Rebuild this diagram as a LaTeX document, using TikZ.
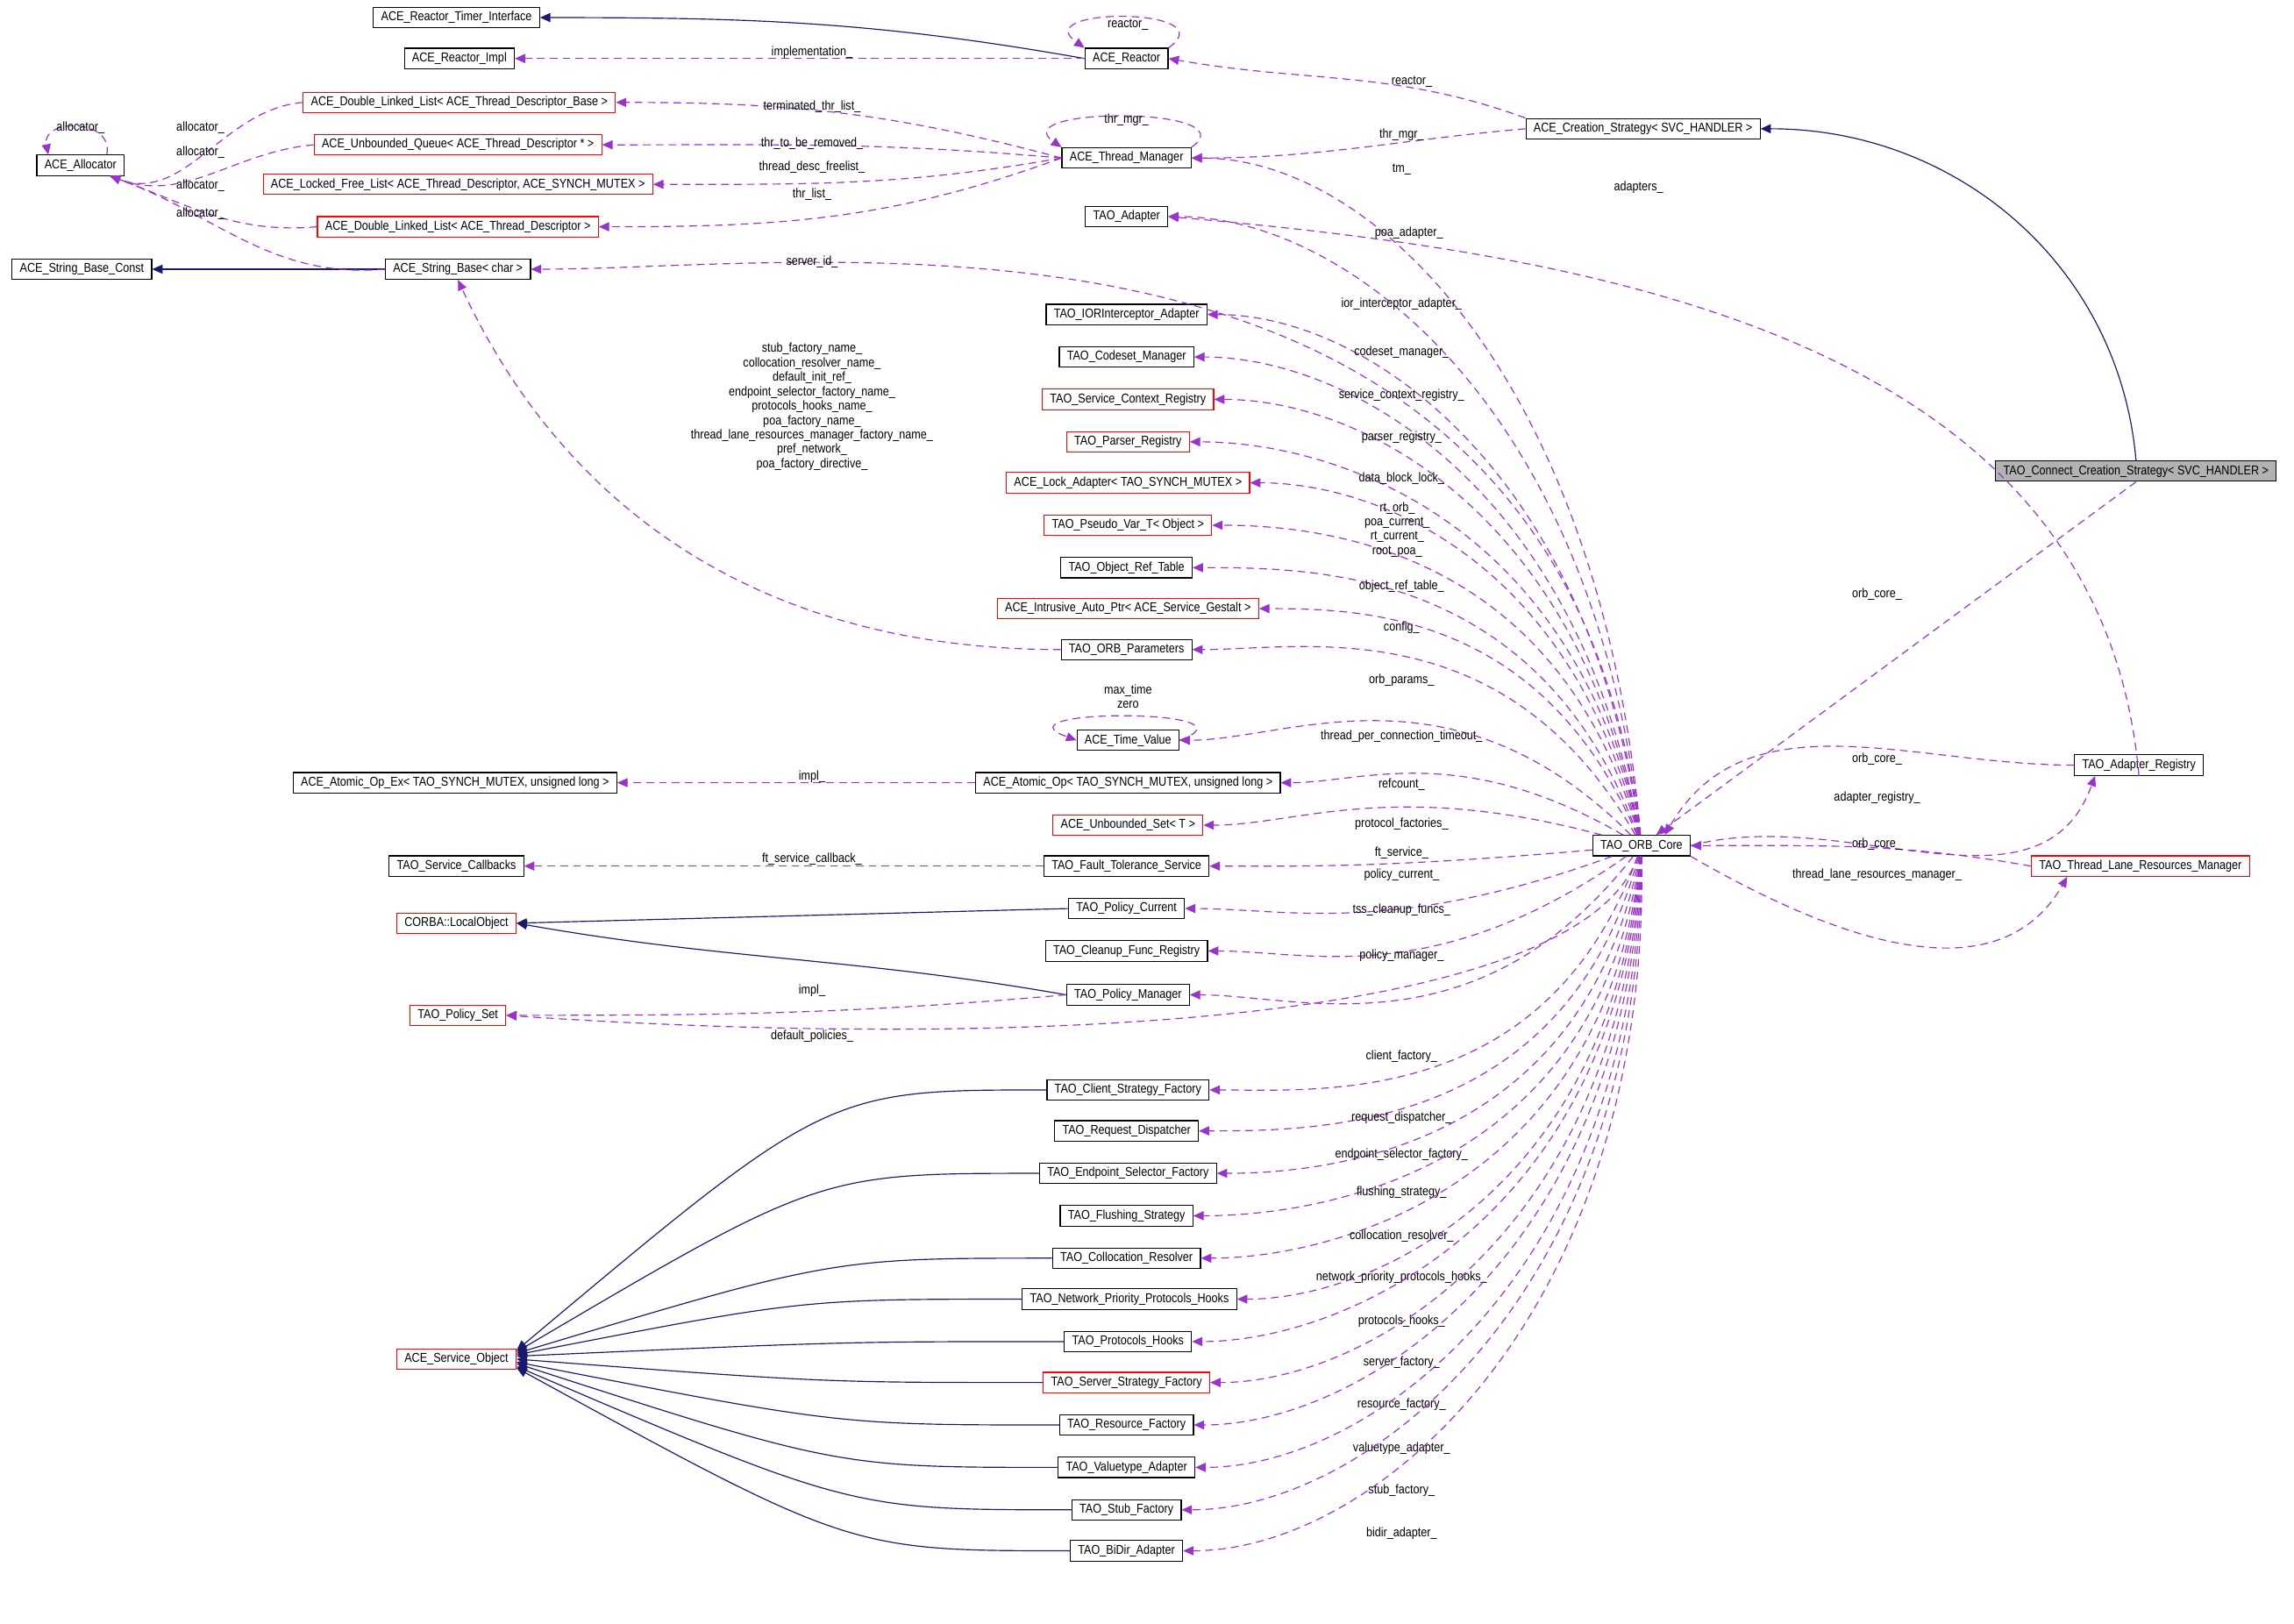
\documentclass[tikz,border=0pt]{standalone}
\usepackage{fontspec}
\setmainfont{Liberation Sans}[FakeStretch=0.86]
\usetikzlibrary{arrows.meta}
\definecolor{navyedge}{HTML}{191970}
\definecolor{useedge}{HTML}{9A32CD}
\tikzset{
  box/.style={draw=black,fill=white,font=\fontsize{5}{6}\selectfont,
    inner xsep=3pt,inner ysep=0pt,minimum height=0.28cm},
  redbox/.style={box,draw=red},
  lbl/.style={font=\fontsize{5}{5.6}\selectfont,inner sep=0pt,align=center},
  inh/.style={navyedge,-{Triangle[length=4pt,width=3.5pt]}},
  use/.style={useedge,dashed,dash pattern=on 3pt off 2pt,-{Triangle[length=4pt,width=3.5pt]}}
}
\catcode`\_=12
\begin{document}
\begin{tikzpicture}[x=0.02cm,y=-0.02cm]
  \useasboundingbox[fill=white] (0,0) rectangle (1568,1109.7);

  % left column
  \node[box] (rti) at (312,12) {ACE_Reactor_Timer_Interface};
  \node[box] (rimpl) at (314,40) {ACE_Reactor_Impl};
  \node[redbox] (dllb) at (314,70) {ACE_Double_Linked_List< ACE_Thread_Descriptor_Base >};
  \node[redbox] (uq) at (313,99) {ACE_Unbounded_Queue< ACE_Thread_Descriptor * >};
  \node[redbox] (lfl) at (313,126) {ACE_Locked_Free_List< ACE_Thread_Descriptor, ACE_SYNCH_MUTEX >};
  \node[redbox] (dlld) at (313,155) {ACE_Double_Linked_List< ACE_Thread_Descriptor >};
  \node[box] (alloc) at (55,113) {ACE_Allocator};
  \node[box] (sbc) at (56,184) {ACE_String_Base_Const};
  \node[box] (strbase) at (313,184) {ACE_String_Base< char >};
  \node[box] (aopex) at (311,535) {ACE_Atomic_Op_Ex< TAO_SYNCH_MUTEX, unsigned long >};
  \node[box] (svccb) at (312,592) {TAO_Service_Callbacks};
  \node[redbox] (lobj) at (312,631) {CORBA::LocalObject};
  \node[redbox] (polset) at (313,694) {TAO_Policy_Set};
  \node[redbox] (svcobj) at (312,929) {ACE_Service_Object};

  % middle column
  \node[box] (reactor) at (770,40) {ACE_Reactor};
  \node[box] (tmgr) at (770,108) {ACE_Thread_Manager};
  \node[box] (tadapter) at (770,148) {TAO_Adapter};
  \node[box] (ior) at (770,215) {TAO_IORInterceptor_Adapter};
  \node[box] (codeset) at (770,244) {TAO_Codeset_Manager};
  \node[redbox] (scr) at (771,273) {TAO_Service_Context_Registry};
  \node[redbox] (parser) at (771,302) {TAO_Parser_Registry};
  \node[redbox] (lock) at (771,330) {ACE_Lock_Adapter< TAO_SYNCH_MUTEX >};
  \node[redbox] (pseudo) at (771,359) {TAO_Pseudo_Var_T< Object >};
  \node[box] (objref) at (770,388) {TAO_Object_Ref_Table};
  \node[redbox] (intr) at (771,416) {ACE_Intrusive_Auto_Ptr< ACE_Service_Gestalt >};
  \node[box] (orbparams) at (770,444) {TAO_ORB_Parameters};
  \node[box] (timev) at (771,506) {ACE_Time_Value};
  \node[box] (aop) at (771,535) {ACE_Atomic_Op< TAO_SYNCH_MUTEX, unsigned long >};
  \node[redbox] (uset) at (771,564) {ACE_Unbounded_Set< T >};
  \node[box] (ftsvc) at (770,592) {TAO_Fault_Tolerance_Service};
  \node[box] (polcur) at (770,621) {TAO_Policy_Current};
  \node[box] (tss) at (770,650) {TAO_Cleanup_Func_Registry};
  \node[box] (polman) at (771,680) {TAO_Policy_Manager};
  \node[box] (client) at (771,745) {TAO_Client_Strategy_Factory};
  \node[box] (reqdisp) at (770,773) {TAO_Request_Dispatcher};
  \node[box] (endp) at (771,802) {TAO_Endpoint_Selector_Factory};
  \node[box] (flush) at (770,831) {TAO_Flushing_Strategy};
  \node[box] (coll) at (770,860) {TAO_Collocation_Resolver};
  \node[box] (netprio) at (772,888) {TAO_Network_Priority_Protocols_Hooks};
  \node[box] (proto) at (771,917) {TAO_Protocols_Hooks};
  \node[redbox] (server) at (770,945) {TAO_Server_Strategy_Factory};
  \node[box] (resource) at (770,974) {TAO_Resource_Factory};
  \node[box] (valuetype) at (770,1003) {TAO_Valuetype_Adapter};
  \node[box] (stub) at (770,1032) {TAO_Stub_Factory};
  \node[box] (bidir) at (770,1060) {TAO_BiDir_Adapter};

  % right side
  \node[box] (cs) at (1123,88) {ACE_Creation_Strategy< SVC_HANDLER >};
  \node[box] (core) at (1122,578) {TAO_ORB_Core};
  \node[box] (areg) at (1462,523) {TAO_Adapter_Registry};
  \node[redbox] (tlrm) at (1463,592) {TAO_Thread_Lane_Resources_Manager};
  \node[box,fill=black!30] (ccs) at (1460,322) {TAO_Connect_Creation_Strategy< SVC_HANDLER >};

  % inheritance
  \draw[inh] (reactor.west) to[out=170,in=0] (rti.east);
  \draw[inh] (strbase) -- (sbc);
  \draw[inh] (ccs.north) to[out=95,in=0] (cs.east);
  \draw[inh] (polcur.west) -- (lobj.east);
  \draw[inh] (polman.west) to[out=170,in=-10] (lobj.east);
  \foreach \f/\dy in {client/-6,endp/-5,coll/-4,netprio/-3,proto/-2,server/0,resource/2,valuetype/3,stub/5,bidir/6}
    \draw[inh] (\f.west) .. controls +(-150,0) .. ([shift={(0,\dy)}]svcobj.east);

  % self loops
  \draw[use] (reactor.north east) .. controls +(40,-28) and +(-40,-28) .. (reactor.north west);
  \node[lbl] at (771,17) {reactor_};
  \draw[use] (tmgr.north east) .. controls +(40,-28) and +(-40,-28) .. (tmgr.north west);
  \node[lbl] at (770,82) {thr_mgr_};
  \draw[use] ([shift={(18,0)}]alloc.north) .. controls +(5,-25) and +(-5,-25) .. ([shift={(-22,0)}]alloc.north);
  \node[lbl] at (55,87) {allocator_};
  \draw[use] (timev.east) .. controls +(60,-22) and +(-60,-22) .. (timev.west);
  \node[lbl] at (771,476) {max_time\\zero};

  % reactor and thread manager usage
  \draw[use] (reactor) -- (rimpl);
  \node[lbl] at (555,36) {implementation_};
  \draw[use] (cs.north west) to[out=160,in=-10] (reactor.east);
  \node[lbl] at (965,56) {reactor_};
  \draw[use] (cs.west) to[out=185,in=0] (tmgr.east);
  \node[lbl] at (958,92) {thr_mgr_};
  \draw[use] (tmgr.west) to[out=165,in=0] (dllb.east);
  \node[lbl] at (555,73) {terminated_thr_list_};
  \draw[use] (tmgr.west) to[out=175,in=0] (uq.east);
  \node[lbl] at (555,98) {thr_to_be_removed_};
  \draw[use] (tmgr.west) to[out=190,in=0] (lfl.east);
  \node[lbl] at (555,114) {thread_desc_freelist_};
  \draw[use] (tmgr.west) to[out=200,in=0] (dlld.east);
  \node[lbl] at (555,133) {thr_list_};
  \foreach \s/\ly in {dllb/87,uq/104,dlld/127,strbase/146}
    \draw[use] (\s.west) to[out=185,in=-20] (alloc);
  \foreach \ly in {87,104,127,146}
    \node[lbl] at (137,\ly) {allocator_};

  % ORB core usage, upwards
  \foreach \t/\lx/\ly/\o/\lab in {
      tmgr/958/116/95/tm_, tadapter/963/159/96/poa_adapter_,
      strbase/555/179/97/server_id_, ior/958/208/98/ior_interceptor_adapter_,
      codeset/958/241/100/codeset_manager_, scr/958/270/101/service_context_registry_,
      parser/958/299/102/parser_registry_, lock/958/327/104/data_block_lock_,
      pseudo/955/362/106/{rt_orb_\\poa_current_\\rt_current_\\root_poa_},
      objref/958/401/110/object_ref_table_, intr/958/429/113/config_,
      orbparams/958/465/120/orb_params_, timev/958/503/135/thread_per_connection_timeout_,
      aop/958/536/150/refcount_, uset/958/563/165/protocol_factories_,
      ftsvc/958/583/185/ft_service_} {
    \draw[use] (core) to[out=\o,in=0,out looseness=1.4,in looseness=0.6] (\t.east);
    \node[lbl] at (\lx,\ly) {\lab};
  }

  % ORB core usage, downwards
  \foreach \t/\lx/\ly/\o/\lab in {
      polcur/958/598/200/policy_current_, tss/958/622/215/tss_cleanup_funcs_,
      polman/958/653/232/policy_manager_,
      client/958/722/250/client_factory_, reqdisp/958/764/255/request_dispatcher_,
      endp/958/789/259/endpoint_selector_factory_, flush/958/815/262/flushing_strategy_,
      coll/958/845/264/collocation_resolver_, netprio/958/873/265/network_priority_protocols_hooks_,
      proto/958/903/266/protocols_hooks_, server/958/931/267/server_factory_,
      resource/958/960/268/resource_factory_, valuetype/958/990/269/valuetype_adapter_,
      stub/958/1019/270/stub_factory_, bidir/958/1048/271/bidir_adapter_} {
    \draw[use] (core) to[out=\o,in=0,out looseness=1.4,in looseness=0.6] (\t.east);
    \node[lbl] at (\lx,\ly) {\lab};
  }
  \draw[use] (core) .. controls (1080,700) and (700,718) .. (polset.east);
  \node[lbl] at (555,708) {default_policies_};

  % other usage
  \draw[use] (orbparams.west) to[out=180,in=-65] (strbase.south);
  \node[lbl] at (555,278) {stub_factory_name_\\collocation_resolver_name_\\default_init_ref_\\endpoint_selector_factory_name_\\protocols_hooks_name_\\poa_factory_name_\\thread_lane_resources_manager_factory_name_\\pref_network_\\poa_factory_directive_};
  \draw[use] (aop) -- (aopex);
  \node[lbl] at (555,531) {impl_};
  \draw[use] (ftsvc) -- (svccb);
  \node[lbl] at (555,587) {ft_service_callback_};
  \draw[use] (polman.west) to[out=185,in=0] (polset.east);
  \node[lbl] at (555,677) {impl_};
  \draw[use] (ccs.south) -- ([shift={(10,0)}]core.north);
  \node[lbl] at (1283,406) {orb_core_};
  \draw[use] (areg.south) to[out=95,in=-5] (tadapter.east);
  \node[lbl] at (1120,128) {adapters_};
  \draw[use] (areg.west) to[out=180,in=60] ([shift={(16,0)}]core.north);
  \node[lbl] at (1283,519) {orb_core_};
  \draw[use] (core.east) to[out=15,in=-110] ([shift={(-30,0)}]areg.south);
  \node[lbl] at (1283,545) {adapter_registry_};
  \draw[use] (tlrm.west) to[out=170,in=0] (core.east);
  \node[lbl] at (1283,577) {orb_core_};
  \draw[use] (core.south east) to[out=-30,in=-120] ([shift={(-50,0)}]tlrm.south);
  \node[lbl] at (1283,598) {thread_lane_resources_manager_};
\end{tikzpicture}
\end{document}
